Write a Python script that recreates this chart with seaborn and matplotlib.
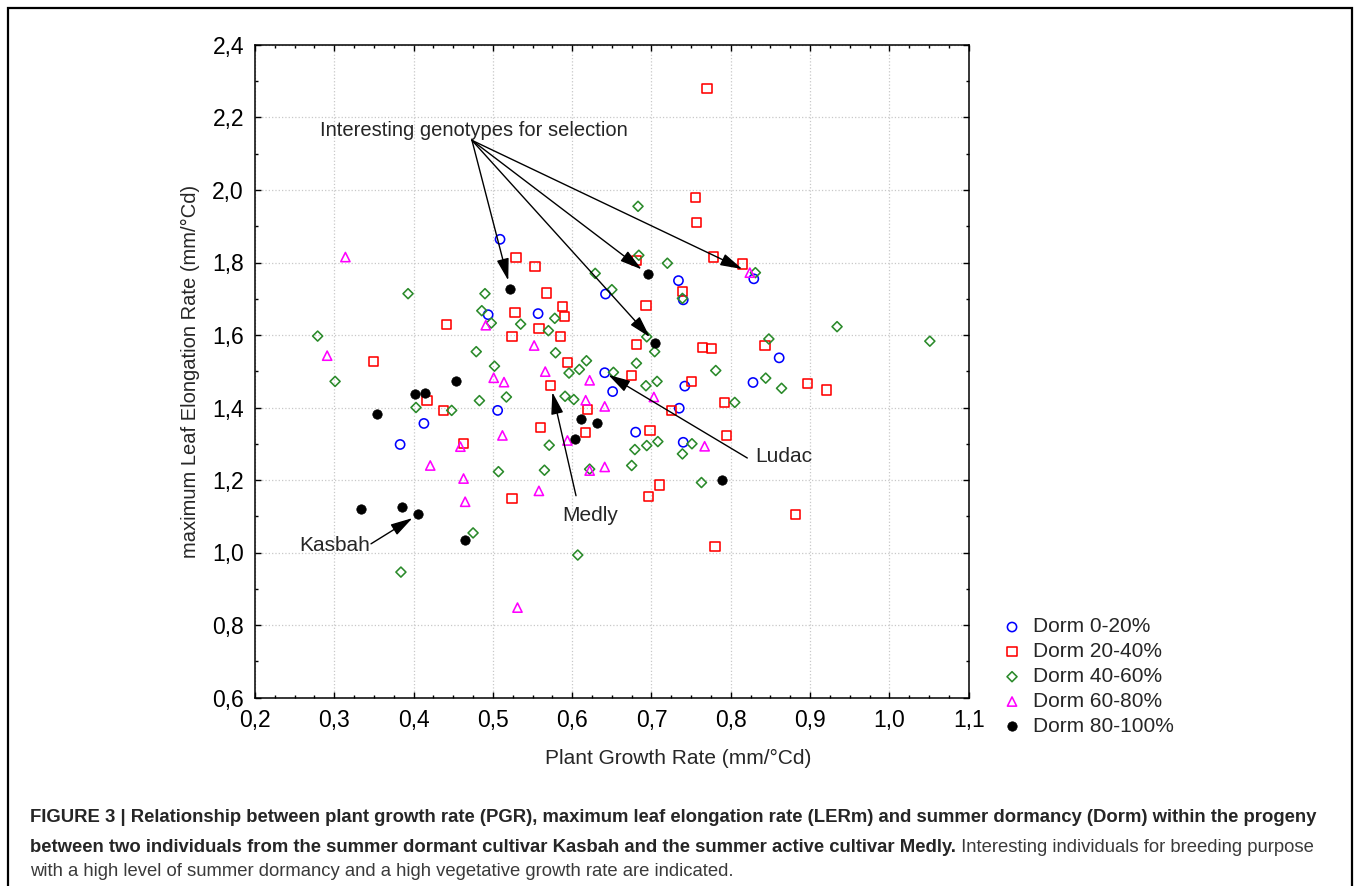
import matplotlib
matplotlib.use("Agg")
import matplotlib.pyplot as plt
import matplotlib.ticker as mticker
from matplotlib import font_manager
from matplotlib.patches import Rectangle
import seaborn as sns

# Dorm 0-20%
dorm0_x = [0.509, 0.494, 0.557, 0.642, 0.734, 0.740, 0.829, 0.861, 0.828, 0.506, 0.413, 0.383,
           0.641, 0.651, 0.742, 0.735, 0.680, 0.740]
dorm0_y = [1.864, 1.656, 1.659, 1.713, 1.750, 1.697, 1.755, 1.537, 1.469, 1.392, 1.356, 1.298,
           1.496, 1.444, 1.459, 1.398, 1.332, 1.304]

# Dorm 20-40%
dorm20_x = [0.770, 0.755, 0.757, 0.529, 0.553, 0.681, 0.778, 0.815, 0.739, 0.568, 0.528, 0.588,
            0.590, 0.693, 0.558, 0.441, 0.524, 0.585, 0.681, 0.843, 0.764, 0.776, 0.349, 0.594,
            0.675, 0.750, 0.573, 0.897, 0.921, 0.417, 0.792, 0.438, 0.619, 0.725, 0.560, 0.617,
            0.698, 0.795, 0.463, 0.524, 0.710, 0.696, 0.882, 0.780]
dorm20_y = [2.280, 1.980, 1.910, 1.813, 1.789, 1.806, 1.815, 1.796, 1.721, 1.716, 1.662, 1.678,
            1.651, 1.681, 1.617, 1.630, 1.596, 1.595, 1.574, 1.572, 1.566, 1.563, 1.526, 1.525,
            1.489, 1.471, 1.461, 1.466, 1.448, 1.420, 1.414, 1.391, 1.395, 1.392, 1.344, 1.330,
            1.336, 1.323, 1.301, 1.150, 1.186, 1.155, 1.104, 1.017]

# Dorm 40-60%
dorm40_x = [0.683, 0.684, 0.720, 0.831, 0.629, 0.650, 0.739, 0.393, 0.490, 0.486, 0.498, 0.578,
            0.535, 0.570, 0.934, 1.051, 0.848, 0.694, 0.279, 0.479, 0.579, 0.704, 0.618, 0.681,
            0.502, 0.609, 0.596, 0.781, 0.652, 0.844, 0.301, 0.707, 0.693, 0.864, 0.517, 0.591,
            0.602, 0.483, 0.805, 0.403, 0.448, 0.571, 0.679, 0.694, 0.708, 0.751, 0.739, 0.507,
            0.565, 0.622, 0.675, 0.763, 0.475, 0.607, 0.384]
dorm40_y = [1.955, 1.820, 1.798, 1.772, 1.770, 1.725, 1.701, 1.714, 1.714, 1.667, 1.633, 1.646,
            1.630, 1.612, 1.623, 1.583, 1.589, 1.595, 1.597, 1.554, 1.551, 1.554, 1.529, 1.522,
            1.514, 1.505, 1.495, 1.502, 1.497, 1.481, 1.472, 1.472, 1.460, 1.453, 1.429, 1.431,
            1.422, 1.419, 1.414, 1.400, 1.392, 1.296, 1.284, 1.295, 1.306, 1.300, 1.272, 1.223,
            1.227, 1.230, 1.240, 1.193, 1.054, 0.993, 0.946]

# Dorm 60-80%
dorm60_x = [0.314, 0.491, 0.291, 0.552, 0.566, 0.501, 0.514, 0.622, 0.617, 0.641, 0.703, 0.824,
            0.459, 0.421, 0.463, 0.465, 0.512, 0.594, 0.767, 0.622, 0.641, 0.558, 0.531]
dorm60_y = [1.815, 1.627, 1.543, 1.571, 1.499, 1.482, 1.470, 1.475, 1.420, 1.403, 1.429, 1.772,
            1.292, 1.240, 1.204, 1.140, 1.323, 1.309, 1.293, 1.226, 1.236, 1.170, 0.848]

# Dorm 80-100%
dorm80_x = [0.454, 0.402, 0.415, 0.354, 0.334, 0.385, 0.406, 0.465, 0.522, 0.696, 0.705, 0.611,
            0.631, 0.604, 0.789]
dorm80_y = [1.472, 1.437, 1.440, 1.381, 1.121, 1.125, 1.105, 1.034, 1.728, 1.767, 1.577, 1.369,
            1.356, 1.313, 1.199]

x_ticks = [0.2, 0.3, 0.4, 0.5, 0.6, 0.7, 0.8, 0.9, 1.0, 1.1]
y_ticks = [0.6, 0.8, 1.0, 1.2, 1.4, 1.6, 1.8, 2.0, 2.2, 2.4]

caption_bold_1 = ("FIGURE 3 | Relationship between plant growth rate (PGR), maximum leaf elongation rate "
                  "(LERm) and summer dormancy (Dorm) within the progeny")
caption_bold_2 = ("between two individuals from the summer dormant cultivar Kasbah and the summer "
                  "active cultivar Medly.")
caption_reg_2 = " Interesting individuals for breeding purpose"
caption_reg_3 = "with a high level of summer dormancy and a high vegetative growth rate are indicated."

sns.set_style("ticks")
plt.rcParams['font.family'] = ['Liberation Sans', 'DejaVu Sans']


def narrow_family():
    try:
        font_manager.findfont("Liberation Sans Narrow", fallback_to_default=False)
        return ["Liberation Sans Narrow", "Liberation Sans"]
    except Exception:
        return ["Liberation Sans", "DejaVu Sans"]


W, H = 1360, 886
fig = plt.figure(figsize=(W / 100, H / 100), dpi=100)
ax = fig.add_axes([255 / W, 1 - 697.5 / H, 713.7 / W, 652.5 / H])

groups = [
    ("Dorm 0-20%", dorm0_x, dorm0_y, "o", "#0000ff", 44, False),
    ("Dorm 20-40%", dorm20_x, dorm20_y, "s", "#ff0000", 44, False),
    ("Dorm 40-60%", dorm40_x, dorm40_y, "D", "#2a8a2a", 26, False),
    ("Dorm 60-80%", dorm60_x, dorm60_y, "^", "#ff00ff", 44, False),
    ("Dorm 80-100%", dorm80_x, dorm80_y, "o", "#000000", 46, True),
]
for label, xs, ys, mk, col, size, filled in groups:
    if filled:
        sns.scatterplot(x=xs, y=ys, marker=mk, s=size, color=col, edgecolor=col,
                        linewidth=0.5, ax=ax, label=label, zorder=3)
    else:
        sns.scatterplot(x=xs, y=ys, marker=mk, s=size, facecolor="none", edgecolor=col,
                        linewidth=1.15, ax=ax, label=label, zorder=3)

ax.set_xlim(0.2, 1.1)
ax.set_ylim(0.6, 2.4)
ax.set_xticks(x_ticks)
ax.set_yticks(y_ticks)
ax.xaxis.set_minor_locator(mticker.MultipleLocator(0.025))
ax.yaxis.set_minor_locator(mticker.MultipleLocator(0.1))
comma = mticker.FuncFormatter(lambda v, p: f"{v:.1f}".replace(".", ","))
ax.xaxis.set_major_formatter(comma)
ax.yaxis.set_major_formatter(comma)
ax.tick_params(which="both", direction="in", top=True, right=True, width=1, colors="black")
ax.tick_params(which="major", length=4.5, labelsize=16.5, pad=8)
ax.tick_params(which="minor", length=2.5)
for sp in ax.spines.values():
    sp.set_visible(True)
    sp.set_linewidth(1.1)
    sp.set_color("black")
ax.grid(True, which="major", linestyle=":", color="#c8c8c8", linewidth=0.9, zorder=0)
ax.set_axisbelow(True)

ax.set_xlabel("Plant Growth Rate (mm/°Cd)", fontsize=15)
ax.set_ylabel("maximum Leaf Elongation Rate (mm/°Cd)", fontsize=14.5)
ax.xaxis.set_label_coords(0.593, -0.079)
ax.yaxis.set_label_coords(-0.077, 0.5)

# annotations
arrow_kw = dict(arrowstyle="-|>,head_length=0.9,head_width=0.25", color="black",
                lw=1.0, mutation_scale=15, shrinkA=0)
ax.text(0.4762, 2.165, "Interesting genotypes for selection", fontsize=14.5,
        ha="center", va="center")
start = (0.4736, 2.137)
for tx, ty, shrink in [(dorm80_x[8], dorm80_y[8], 6), (dorm80_x[9], dorm80_y[9], 6),
                       (dorm80_x[10], dorm80_y[10], 6), (dorm60_x[11], dorm60_y[11], 6)]:
    ax.annotate("", xy=(tx, ty), xytext=start,
                arrowprops=dict(arrow_kw, shrinkB=shrink))

ax.text(0.3009, 1.0185, "Kasbah", fontsize=15, ha="center", va="center")
ax.annotate("", xy=(dorm80_x[6], dorm80_y[6]), xytext=(0.3463, 1.024),
            arrowprops=dict(arrow_kw, shrinkB=5))
ax.text(0.6225, 1.101, "Medly", fontsize=15, ha="center", va="center")
ax.annotate("", xy=(dorm20_x[26], dorm20_y[26]), xytext=(0.6048, 1.1566),
            arrowprops=dict(arrow_kw, shrinkB=5))
ax.text(0.867, 1.264, "Ludac", fontsize=15, ha="center", va="center")
ax.annotate("", xy=(dorm0_x[12], dorm0_y[12]), xytext=(0.8208, 1.2607),
            arrowprops=dict(arrow_kw, shrinkB=3))

leg = ax.legend(loc="upper left", bbox_to_anchor=(1001.6 / W, 1 - 617.5 / H),
                bbox_transform=fig.transFigure, frameon=False, fontsize=15,
                handletextpad=0.5, labelspacing=0.28, borderpad=0, borderaxespad=0,
                handlelength=1, markerscale=1.0)

# caption
cap_fam = narrow_family()
cap_size = 13.35
fig.text(30 / W, 1 - 818 / H, caption_bold_1, fontsize=cap_size, fontweight="bold",
         family=cap_fam, va="center", ha="left")
t2 = fig.text(30 / W, 1 - 847 / H, caption_bold_2, fontsize=cap_size, fontweight="bold",
              family=cap_fam, va="center", ha="left")
ax.annotate(caption_reg_2, xy=(1, 0), xycoords=t2, va="bottom", ha="left",
            fontsize=cap_size, family=cap_fam, color="#3a3a3a", annotation_clip=False)
fig.text(30 / W, 1 - 871 / H, caption_reg_3, fontsize=cap_size, family=cap_fam,
         color="#3a3a3a", va="center", ha="left")

# outer frame
fig.add_artist(Rectangle((8 / W, -0.02), 1344 / W, 1 - 8 / H + 0.02, fill=False,
                         edgecolor="black", linewidth=1.6, transform=fig.transFigure))

fig.savefig("out.png", dpi=100)
